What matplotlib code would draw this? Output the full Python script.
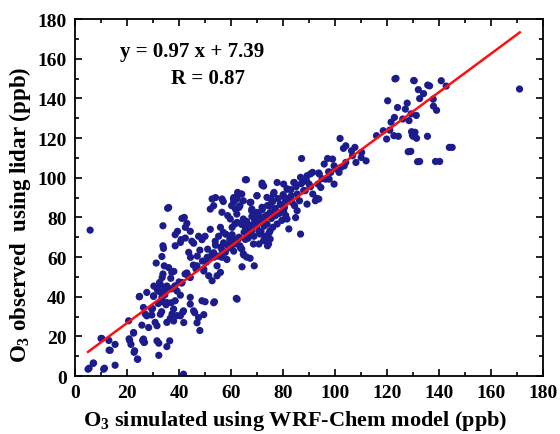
import numpy as np
import matplotlib
matplotlib.use("Agg")
import matplotlib.pyplot as plt
from matplotlib.ticker import MultipleLocator

# O3 simulated (WRF-Chem) vs O3 observed (lidar), ppb
x_sim = [
    5.8, 5.0, 7.0, 11.0, 10.0, 13.5, 15.4, 15.4, 13.0, 21.0, 21.5, 22.5, 22.7, 24.0, 24.7, 26.0, 26.5,
    24.8, 30.2, 32.8, 34.5, 40.5, 38.5, 37.0, 33.7, 32.0, 29.8, 27.0, 29.5, 30.8, 31.5, 28.3, 25.7,
    33.3, 35.0, 37.3, 35.3, 39.2, 41.4, 41.8, 20.6, 22.5, 20.8, 26.3, 26.7, 22.9, 24.1, 31.5, 32.2,
    36.4, 35.3, 32.2, 10.3, 13.1, 7.1, 5.4, 11.3, 41.7, 46.0, 48.0, 50.0, 53.3, 49.5,
    34.0, 33.4, 31.2, 34.3, 33.8, 37.2, 36.8, 32.5, 34.6, 32.0, 38.4, 41.0, 42.3, 38.5, 40.5, 43.7,
    44.4, 45.6, 46.9, 49.5, 51.4, 50.8, 52.7, 54.6, 55.9, 56.5, 57.8, 59.8, 61.7, 62.3, 52.7, 54.6,
    44.3, 44.3, 48.8, 53.6, 62.3, 45.6, 47.5, 41.7, 40.5, 37.9, 35.3, 33.4, 30.2, 27.6, 26.3, 29.5,
    36.6, 27.6, 32.8, 37.9, 46.9,
    35.6, 33.8, 41.1, 43.0, 42.4, 44.3, 39.4, 38.5, 42.4, 40.8, 44.9, 47.5, 50.0, 48.8, 52.0, 52.0,
    53.3, 56.5, 56.5, 58.7, 59.7, 61.0, 62.3, 63.4, 61.7, 62.3, 60.4, 55.9, 55.2, 53.9, 57.1, 60.4,
    33.8,
    65.5, 71.9, 77.7, 80.2, 84.1, 86.7, 90.5, 93.7, 93.4, 96.4, 91.4, 93.7, 87.9, 85.4, 82.8, 81.5,
    76.3, 73.8, 69.9, 64.1, 60.9, 60.2, 63.4, 67.3, 67.9, 71.9, 75.0, 78.9, 80.2, 77.0, 72.5, 69.3,
    64.7, 62.2, 61.5, 65.4, 69.9, 73.8, 75.0, 71.2, 66.7, 62.8, 60.2, 64.1, 68.6, 72.5, 74.4, 75.0,
    82.2, 86.7, 77.7, 81.5, 85.4, 89.2, 92.4, 64.7, 66.0, 63.4,
    64.2, 68.9, 62.0, 64.9, 67.3,
    123.4, 130.4, 135.6, 136.3, 132.0, 134.0, 137.7, 140.8, 142.7, 120.2, 124.0, 127.7, 127.0, 129.2,
    131.2, 132.5, 137.8, 139.0, 122.8, 126.0, 121.5, 128.4, 118.5, 115.9, 119.8, 124.3, 130.7, 130.0,
    135.5, 129.1, 132.5, 140.2, 145.0, 170.9,
    101.9, 104.1, 103.2, 106.3, 107.6, 110.2, 106.7, 108.0, 111.9, 110.0, 104.1, 102.2, 99.0, 97.1,
    95.8, 99.6, 98.3, 101.5, 103.5, 87.1, 91.3, 89.2, 88.2, 84.3, 93.9, 97.7, 99.6, 94.5, 90.0, 92.9,
    81.7, 80.5, 83.1, 86.3, 84.4, 80.5, 84.8,
    128.1, 131.7, 138.6, 131.3, 129.4, 129.7, 123.0, 130.2, 122.6, 121.0, 143.9,
    36.0, 42.0, 52.7, 54.0, 57.0, 61.0, 62.5, 65.9, 71.9, 72.5, 64.7, 67.6, 70.0, 76.5, 75.2, 68.0,
    63.0,
    43.0, 44.3, 41.1, 39.2, 35.3, 32.8, 38.0, 36.0, 33.5, 31.6, 30.3, 49.5, 51.4, 49.0, 53.3, 55.2,
    58.4, 59.7, 61.0, 63.6, 61.0, 65.5, 68.8, 70.7, 66.8, 72.7, 74.6, 70.7, 74.0,
    66.0, 67.5, 69.0, 70.5, 72.0, 73.5, 75.5, 77.0, 78.5, 66.5, 68.0, 70.0, 71.5, 73.0, 76.0, 79.5,
    81.0, 83.5, 58.0, 59.5, 57.0, 54.0, 51.0, 47.0, 45.5, 48.0, 56.0, 88.5, 90.5, 95.0, 97.5, 100.5,
    63.0, 65.0, 67.0, 69.0, 71.0, 73.0, 75.0, 77.0, 79.0, 81.0, 64.0, 66.0, 68.0, 70.0, 72.0, 74.0,
    76.0, 78.0, 80.0, 83.0, 85.0, 87.0, 89.0, 58.5, 56.5, 53.5, 50.5, 46.5, 43.5, 40.0, 37.0, 34.5,
]
y_obs = [
    73.6, 3.5, 6.5, 3.5, 19.0, 13.0, 16.0, 5.5, 18.0, 18.0, 16.0, 22.0, 12.0, 8.5, 40.0, 18.0, 17.0,
    40.2, 40.2, 42.4, 43.5, 40.8, 38.0, 37.0, 37.5, 36.6, 34.1, 31.3, 30.8, 27.1, 25.4, 24.5, 25.7,
    32.5, 36.0, 31.3, 27.1, 30.5, 32.2, 27.0, 27.9, 21.7, 18.8, 18.7, 17.0, 12.8, 8.6, 17.8, 16.6,
    17.8, 14.9, 10.5, 19.0, 13.1, 6.6, 4.0, 4.0, 1.0, 32.0, 23.0, 37.5, 37.0, 31.0,
    64.4, 60.3, 57.0, 55.6, 51.5, 52.3, 49.3, 47.2, 44.2, 43.0, 45.5, 46.9, 51.5, 65.7, 67.4, 62.4,
    59.9, 67.0, 55.6, 54.0, 50.6, 59.9, 61.6, 55.6, 52.3, 59.9, 62.4, 64.9, 66.6, 69.1, 48.1, 50.6,
    39.7, 36.3, 38.0, 37.5, 38.8, 32.9, 29.5, 32.9, 30.4, 33.8, 37.1, 39.7, 40.5, 42.2, 34.6, 33.8,
    29.1, 30.4, 31.2, 27.8, 26.9,
    84.6, 75.8, 79.5, 77.0, 75.0, 73.0, 73.0, 71.3, 69.6, 68.8, 68.0, 70.5, 70.5, 68.8, 74.0, 84.2,
    85.9, 89.3, 82.6, 80.9, 79.2, 87.6, 89.3, 91.8, 84.2, 77.5, 75.0, 75.0, 70.5, 68.0, 67.2, 71.3,
    65.7,
    99.0, 96.3, 97.6, 96.8, 97.6, 100.2, 101.9, 102.4, 96.8, 99.3, 91.8, 89.3, 93.5, 91.8, 90.1, 94.3,
    91.8, 90.1, 90.9, 91.8, 89.3, 85.9, 85.9, 87.6, 83.4, 85.1, 85.9, 86.7, 83.4, 80.9, 80.0, 80.9,
    79.2, 81.7, 76.7, 75.0, 75.8, 76.7, 73.3, 71.6, 70.8, 69.1, 66.6, 64.1, 66.6, 68.3, 66.6, 69.1,
    74.2, 71.6, 76.7, 79.2, 83.4, 86.7, 88.4, 61.6, 60.0, 65.7,
    55.1, 55.6, 39.2, 61.0, 59.4,
    150.1, 148.9, 146.7, 146.3, 144.4, 142.4, 139.6, 148.9, 146.2, 138.8, 135.4, 137.6, 134.6, 132.2,
    131.4, 139.9, 136.1, 134.0, 130.4, 129.6, 128.0, 128.8, 123.7, 121.2, 119.5, 120.9, 122.9, 120.9,
    120.9, 113.3, 108.2, 108.2, 115.3, 144.7,
    119.8, 116.1, 114.8, 113.6, 115.3, 112.8, 111.1, 107.7, 108.5, 110.2, 107.7, 105.2, 109.4, 109.7,
    106.9, 106.0, 102.7, 102.7, 106.0, 109.7, 102.7, 101.0, 98.4, 97.6, 101.9, 99.3, 96.8, 95.1, 96.8, 89.6,
    94.3, 90.1, 90.9, 88.4, 85.9, 85.0, 79.9,
    113.1, 108.1, 108.2, 119.9, 123.2, 121.5, 149.8, 149.0, 121.2, 124.0, 115.3,
    85.0, 80.0, 89.3, 90.0, 88.0, 90.0, 92.6, 99.0, 97.3, 95.8, 88.4, 87.6, 91.0, 92.6, 89.3, 84.2,
    85.0,
    52.0, 49.7, 47.2, 42.9, 45.4, 46.2, 52.8, 54.7, 49.7, 43.7, 45.4, 53.0, 58.8, 58.0, 62.2, 60.5,
    58.8, 64.7, 63.0, 64.7, 68.0, 68.9, 70.5, 73.0, 73.9, 75.6, 72.2, 66.6, 65.7,
    72.0, 76.0, 79.0, 82.0, 78.0, 81.0, 79.5, 83.0, 82.0, 69.5, 73.5, 77.5, 73.0, 70.5, 75.0, 78.5,
    81.0, 87.5, 71.5, 69.0, 72.5, 66.0, 64.0, 60.5, 56.0, 63.5, 65.0, 93.5, 95.5, 99.5, 103.0, 104.5,
    70.0, 72.5, 74.5, 77.0, 79.0, 80.5, 82.5, 84.5, 86.5, 88.5, 76.5, 78.0, 80.5, 82.5, 84.0, 86.0,
    88.0, 89.5, 91.5, 94.0, 95.5, 97.0, 98.5, 66.0, 63.5, 60.0, 57.5, 54.0, 50.5, 47.5, 44.0, 41.0,
]

slope, intercept = 0.97, 7.39
fit_x = [5, 171]

plt.rcParams['font.family'] = ['Liberation Serif', 'DejaVu Serif']
plt.rcParams['font.weight'] = 'bold'
plt.rcParams['mathtext.fontset'] = 'custom'
plt.rcParams['mathtext.rm'] = 'Liberation Serif:bold'
plt.rcParams['mathtext.it'] = 'Liberation Serif:bold'
plt.rcParams['mathtext.bf'] = 'Liberation Serif:bold'

fig = plt.figure(figsize=(5.6, 4.35), dpi=100)
ax = fig.add_axes([0.134, 0.133, 0.836, 0.821])

ax.scatter(x_sim, y_obs, s=27, color='#1c1c8c', edgecolors='none', zorder=2)
fx = np.array(fit_x, dtype=float)
ax.plot(fx, slope * fx + intercept, color='#ff1010', lw=1.8, zorder=3)

ax.set_xlim(0, 180)
ax.set_ylim(0, 180)
ax.xaxis.set_major_locator(MultipleLocator(20))
ax.xaxis.set_minor_locator(MultipleLocator(10))
ax.yaxis.set_major_locator(MultipleLocator(20))
ax.yaxis.set_minor_locator(MultipleLocator(10))
ax.tick_params(which='both', direction='in', top=True, right=True, width=1.2,
               labelsize=14, pad=6)
ax.tick_params(which='major', length=5)
ax.tick_params(which='minor', length=3)
for s in ax.spines.values():
    s.set_linewidth(1.3)

ax.set_xlabel('O$_3$ simulated using WRF-Chem model (ppb)', fontsize=16,
              fontweight='bold', labelpad=5)
ax.set_ylabel('O$_3$ observed  using lidar (ppb)', fontsize=16.5,
              fontweight='bold', labelpad=3)
# labels in the original sit a little off-centre
ax.xaxis.label.set_x(0.47)
ax.yaxis.label.set_y(0.455)

ax.text(45, 164, 'y = 0.97 x + 7.39', ha='center', va='center', fontsize=15,
        fontweight='bold')
ax.text(51, 150.5, 'R = 0.87', ha='center', va='center', fontsize=15,
        fontweight='bold')

fig.savefig('out.png', dpi=100)
